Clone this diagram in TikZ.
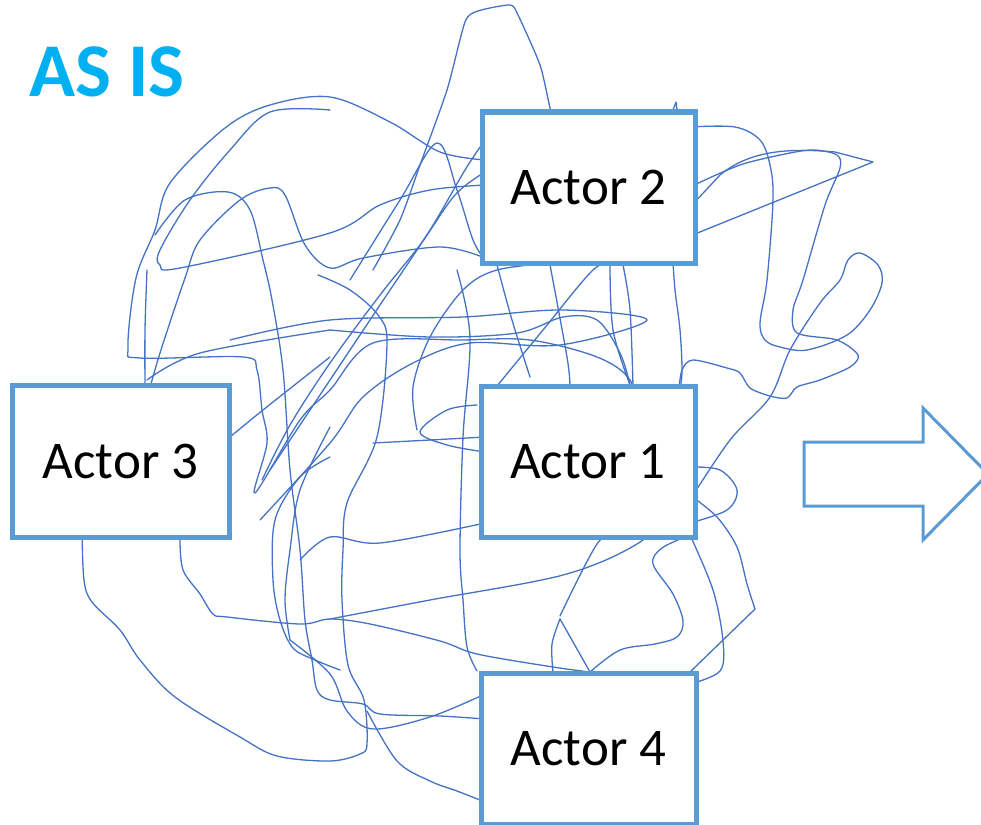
\documentclass[tikz,border=0pt]{standalone}
\usepackage{fontspec}
\setmainfont{Carlito}
\usetikzlibrary{positioning}

\definecolor{boxblue}{HTML}{5B9BD5}
\definecolor{scribbleblue}{HTML}{4472C4}
\definecolor{titlecyan}{HTML}{00B0F0}

\tikzset{
    actor/.style={draw=boxblue, line width=5pt, fill=white, inner sep=0pt,
        minimum width=214pt, minimum height=151pt,
        font=\fontsize{53}{60}\selectfont},
    scribble/.style={draw=scribbleblue, line width=1.3pt, line join=round, line cap=round},
}

\begin{document}
\begin{tikzpicture}[x=1pt, y=-1pt]

    \useasboundingbox (0, 0) rectangle (981, 824);

    \node[anchor=base west, inner sep=0pt, text=titlecyan, font=\fontsize{76}{80}\selectfont\bfseries] (title) at (29, 97) {AS IS};

    % the tangle
    \draw[scribble] plot[smooth, tension=0.55] coordinates {(485,160) (440,152) (390,122) (330,97) (270,105) (225,128) (170,183) (155,230) (136,278) (128,347) (140,358) (243,357) (257,370) (262,410) (267,443) (255,493) (300,420) (330,390) (373,343) (463,340) (530,340) (597,357) (630,380) (640,420)};
    \draw[scribble] plot[smooth, tension=0.55] coordinates {(485,258) (440,247) (363,258) (330,268) (305,245) (285,195) (270,188) (240,200) (200,240) (185,278) (160,353) (148,395)};
    \draw[scribble] plot[smooth, tension=0.55] coordinates {(330,110) (270,112) (230,150) (190,200) (160,250) (160,265) (180,268) (330,233) (380,205) (430,190) (485,185)};
    \draw[scribble] plot[smooth, tension=0.4] coordinates {(373,270) (400,220) (420,165) (447,90) (465,22) (478,11) (510,5) (518,15) (540,65) (550,108) (556,130)};
    \draw[scribble] plot[smooth, tension=0.55] coordinates {(155,235) (185,200) (228,192) (250,210) (263,260) (272,300) (283,370) (290,470) (300,550) (305,620) (312,660) (317,690) (330,700) (363,704) (380,714) (440,716) (485,719)};
    \draw[scribble] plot[smooth, tension=0.55] coordinates {(82,530) (84,580) (92,602) (120,630) (140,660) (175,697) (240,737) (277,756) (330,761) (360,754) (367,744) (364,700) (348,665) (342,600) (343,550) (347,503) (377,437) (387,343) (378,315) (350,290) (318,275)};
    \draw[scribble] plot[smooth, tension=0.55] coordinates {(180,540) (183,570) (200,594) (213,614) (227,617) (300,624) (330,619) (370,624) (440,641) (477,654) (553,667) (590,672)};
    \draw[scribble] plot[smooth, tension=0.55] coordinates {(330,619) (430,600) (563,575) (637,544) (680,505)};
    \draw[scribble] plot[smooth, tension=0.55] coordinates {(367,711) (397,761) (430,781) (457,791) (485,802)};
    \draw[scribble] plot[smooth, tension=0.55] coordinates {(290,640) (330,674) (347,711) (373,729) (430,717) (485,694)};
    \draw[scribble] plot[smooth, tension=0.55] coordinates {(457,270) (470,337) (463,437) (460,550) (463,600) (467,647) (477,671)};
    \draw[scribble] plot[smooth, tension=0.55] coordinates {(417,430) (413,387) (430,337) (463,290) (497,270) (560,262)};
    \draw[scribble] plot[smooth, tension=0.55] coordinates {(477,405) (447,410) (420,432) (447,445) (485,452)};
    \draw[scribble] plot[smooth, tension=0.55] coordinates {(373,443) (430,440) (485,437)};
    \draw[scribble] plot[smooth, tension=0.55] coordinates {(300,560) (330,537) (380,543) (485,523)};
    \draw[scribble] plot[smooth, tension=0.55] coordinates {(260,520) (330,443) (363,397) (413,363) (470,343) (560,345) (647,320) (563,310) (463,317) (330,320) (230,340)};
    \draw[scribble] plot[smooth, tension=0.55] coordinates {(330,330) (430,337) (517,333) (563,317) (597,320) (620,353) (630,385)};
    \draw[scribble] plot[smooth, tension=0.55] coordinates {(497,265) (512,320) (530,377)};
    \draw[scribble] plot[smooth, tension=0.55] coordinates {(550,265) (567,357) (570,386)};
    \draw[scribble] plot[smooth, tension=0.55] coordinates {(610,265) (613,330) (630,385)};
    \draw[scribble] plot[smooth, tension=0.55] coordinates {(623,265) (630,310) (633,386)};
    \draw[scribble] plot[smooth, tension=0.55] coordinates {(497,386) (543,330) (593,270) (615,262)};
    \draw[scribble] plot[smooth, tension=0.55] coordinates {(350,280) (400,200) (437,143) (457,190) (473,240) (485,260)};
    \draw[scribble] plot[smooth, tension=0.55] coordinates {(262,480) (290,425) (330,363) (380,295) (420,245) (455,195) (485,172)};
    \draw[scribble] plot[smooth, tension=0.55] coordinates {(270,470) (330,380) (380,305) (430,230) (465,170) (485,140)};
    \draw[scribble] plot[smooth, tension=0.55] coordinates {(330,427) (300,490) (290,550) (285,600) (290,640)};
    \draw[scribble] plot[smooth, tension=0.55] coordinates {(330,457) (300,477) (275,520) (273,580) (280,620) (293,648) (315,660) (340,670)};
    \draw[scribble] plot[smooth, tension=0.55] coordinates {(230,437) (263,410) (330,357)};
    \draw[scribble] plot[smooth, tension=0.55] coordinates {(147,270) (145,330) (145,388)};
    \draw[scribble] plot[smooth, tension=0.55] coordinates {(147,380) (200,353) (330,330)};
    % right-hand side
    \draw[scribble] plot[smooth, tension=0.55] coordinates {(690,127) (735,127) (760,140) (770,165) (773,200) (767,280) (760,323) (765,340) (780,347) (807,350) (847,335) (870,310) (882,283) (878,265) (860,253) (848,260) (840,280) (820,303) (790,350) (770,397) (730,440) (690,500)};
    \draw[scribble] plot[smooth, tension=0.5] coordinates {(690,187) (740,165) (790,153) (815,150) (837,155) (840,168) (825,205) (803,280) (793,310) (797,333) (837,340) (858,355) (850,367) (820,380) (797,387) (787,398) (770,396) (750,388) (740,373) (727,368) (693,360) (682,370) (679,390)};
    \draw[scribble] (690,236) -- (873,162) -- (835,152) .. controls (790,148) and (750,150) .. (720,175) -- (692,205);
    \draw[scribble] (670,118) -- (676,102) -- (678,118);
    \draw[scribble] plot[smooth, tension=0.55] coordinates {(673,262) (675,290) (680,330) (682,370) (680,390)};
    \draw[scribble] plot[smooth, tension=0.55] coordinates {(690,467) (720,470) (737,490) (727,510) (690,523)};
    \draw[scribble] plot[smooth, tension=0.5] coordinates {(690,495) (717,517) (737,547) (747,584) (755,609)};
    \draw[scribble] (755,609) -- (690,672);
    \draw[scribble] plot[smooth, tension=0.55] coordinates {(690,535) (713,590) (723,641) (720,671) (690,684)};
    \draw[scribble] plot[smooth, tension=0.55] coordinates {(690,535) (662,548) (653,564) (673,594) (683,621) (677,637) (655,644) (620,650) (590,672)};
    \draw[scribble] plot[smooth, tension=0.55] coordinates {(560,616) (597,544) (620,530)};
    \draw[scribble] plot[smooth, tension=0.55] coordinates {(560,619) (552,644) (553,672)};
    \draw[scribble] (560,619) -- (590,672);

    % actors
    \node[actor, minimum width=213pt] (actor2) at (588.5, 187.5) {Actor 2};
    \node[actor, minimum width=217pt, minimum height=152pt] (actor3) at (120.5, 461) {Actor 3};
    \node[actor] (actor1) at (588, 461.5) {Actor 1};
    \node[actor, minimum width=215pt] (actor4) at (588.5, 748.5) {Actor 4};

    % block arrow
    \draw[draw=boxblue, line width=3pt, line join=miter] (804,442) -- (923,442) -- (923,408) -- (988,474) -- (923,540) -- (923,506) -- (804,506) -- cycle;

\end{tikzpicture}
\end{document}
